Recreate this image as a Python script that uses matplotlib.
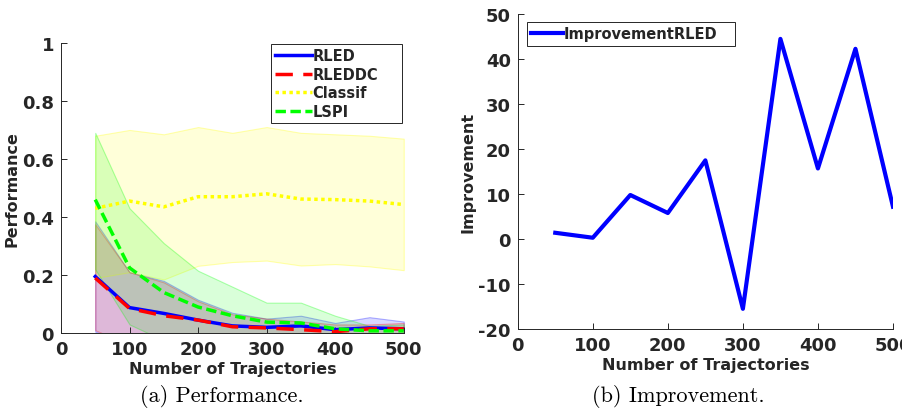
import numpy as np
import matplotlib.pyplot as plt

# liczba trajektorii (wspólna oś x)
trajectories = [50, 100, 150, 200, 250, 300, 350, 400, 450, 500]

# (a) Performance - średnie i granice pasm
rled_mean = [0.195, 0.088, 0.068, 0.045, 0.025, 0.020, 0.025, 0.012, 0.018, 0.015]
rled_upper = [0.385, 0.210, 0.180, 0.115, 0.070, 0.050, 0.060, 0.035, 0.055, 0.040]
rled_lower = [0.005, -0.035, -0.045, -0.025, -0.020, -0.010, -0.010, -0.010, -0.020, -0.010]

rleddc_mean = [0.190, 0.085, 0.060, 0.045, 0.022, 0.018, 0.012, 0.005, 0.015, 0.015]
rleddc_upper = [0.375, 0.210, 0.175, 0.110, 0.065, 0.050, 0.040, 0.030, 0.030, 0.035]
rleddc_lower = [0.010, -0.040, -0.055, -0.020, -0.020, -0.015, -0.015, -0.020, 0.000, -0.005]

classif_mean = [0.430, 0.455, 0.435, 0.470, 0.470, 0.480, 0.462, 0.460, 0.455, 0.443]
classif_upper = [0.680, 0.700, 0.685, 0.710, 0.690, 0.710, 0.690, 0.685, 0.680, 0.670]
classif_lower = [0.190, 0.210, 0.185, 0.232, 0.245, 0.250, 0.233, 0.238, 0.230, 0.217]

lspi_mean = [0.460, 0.225, 0.140, 0.090, 0.060, 0.038, 0.035, 0.015, 0.008, 0.008]
lspi_upper = [0.690, 0.430, 0.310, 0.215, 0.160, 0.105, 0.105, 0.060, 0.025, 0.030]
lspi_lower = [0.220, 0.030, -0.025, -0.035, -0.040, -0.030, -0.035, -0.030, -0.010, -0.015]

# (b) Improvement
improvement = [1.4, 0.3, 9.8, 5.8, 17.5, -15.5, 44.5, 15.7, 42.3, 7.2]

txt = '#262626'
plt.rcParams['font.family'] = ['DejaVu Sans']
plt.rcParams['font.weight'] = 'bold'
plt.rcParams['axes.labelweight'] = 'bold'
plt.rcParams['axes.unicode_minus'] = False

fig = plt.figure(figsize=(9.02, 4.10), dpi=100)
ax1 = fig.add_axes([0.0676, 0.185, 0.380, 0.708])
ax2 = fig.add_axes([0.574, 0.195, 0.416, 0.768])

x = np.array(trajectories)

# pasma rozrzutu
bands = [
    (rled_lower, rled_upper, (0, 0, 1)),
    (rleddc_lower, rleddc_upper, (1, 0, 0)),
    (classif_lower, classif_upper, (1, 1, 0)),
    (lspi_lower, lspi_upper, (0, 1, 0)),
]
for lo, hi, c in bands:
    ax1.fill_between(x, lo, hi, facecolor=c + (0.15,), edgecolor=c + (0.3,), linewidth=0.8)

ax1.plot(x, rled_mean, color='b', lw=2.5, label='RLED')
ax1.plot(x, rleddc_mean, color='r', lw=2.5, dashes=(5, 3), label='RLEDDC')
ax1.plot(x, classif_mean, color='yellow', lw=2.5, dashes=(1, 1), label='Classif')
ax1.plot(x, lspi_mean, color=(0, 1, 0), lw=2.5, dashes=(3, 1.3), label='LSPI')

ax1.set_xlim(0, 500)
ax1.set_ylim(0, 1)
ax1.set_xticks([0, 100, 200, 300, 400, 500])
ax1.set_yticks([0, 0.2, 0.4, 0.6, 0.8, 1])
ax1.set_yticklabels(['0', '0.2', '0.4', '0.6', '0.8', '1'])
ax1.set_xlabel('Number of Trajectories', fontsize=11.5, color=txt, labelpad=2)
ax1.set_ylabel('Performance', fontsize=11.5, color=txt, labelpad=2)
# legenda MATLAB-owa: szersza ramka z wolnym miejscem po prawej
leg1 = ax1.legend(loc='upper left', bbox_to_anchor=(0.612, 0, 0.382, 0.997), mode='expand',
                  fontsize=10.5, handlelength=2.5, handletextpad=0.05,
                  borderpad=0.3, labelspacing=0.25, fancybox=False, framealpha=1,
                  borderaxespad=0)

ax2.plot(x, improvement, color='b', lw=3, label='ImprovementRLED')
ax2.set_xlim(0, 500)
ax2.set_ylim(-20, 50)
ax2.set_xticks([0, 100, 200, 300, 400, 500])
ax2.set_yticks(range(-20, 51, 10))
ax2.set_xlabel('Number of Trajectories', fontsize=11.5, color=txt, labelpad=2)
ax2.set_ylabel('Improvement', fontsize=11.5, color=txt, labelpad=2)
leg2 = ax2.legend(loc='upper left', bbox_to_anchor=(0.024, 0, 0.555, 0.975), mode='expand',
                  fontsize=10.5, handlelength=2.2, handletextpad=0.05,
                  borderpad=0.3, fancybox=False, framealpha=1, borderaxespad=0)

for ax, leg in [(ax1, leg1), (ax2, leg2)]:
    for s in ['top', 'right']:
        ax.spines[s].set_visible(False)
    for s in ['left', 'bottom']:
        ax.spines[s].set_color(txt)
        ax.spines[s].set_linewidth(0.7)
    ax.tick_params(direction='in', length=4, width=0.7, colors=txt, labelsize=13, pad=5)
    leg.get_frame().set_edgecolor(txt)
    leg.get_frame().set_linewidth(0.7)
    for t in leg.get_texts():
        t.set_color(txt)

fig.text(0.246, 0.032, '(a) Performance.', family='cmr10', fontsize=16, ha='center', va='center')
fig.text(0.752, 0.032, '(b) Improvement.', family='cmr10', fontsize=16, ha='center', va='center')

plt.savefig('out.png', dpi=100)
plt.close()
